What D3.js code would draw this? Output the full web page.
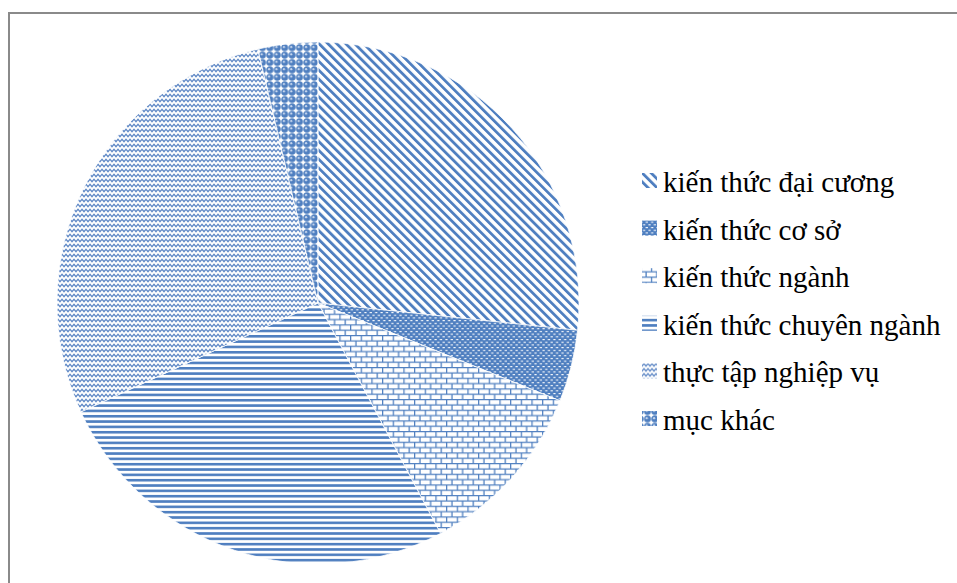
<!DOCTYPE html>
<html>
<head>
<meta charset="utf-8">
<script src="https://cdn.jsdelivr.net/npm/d3@7"></script>
<style>
  html, body { margin: 0; padding: 0; background: #fff; }
  svg { display: block; }
</style>
</head>
<body>
<div id="chart"></div>
<script>
// credit split of the programme
const categories = [
    'kiến thức đại cương',
    'kiến thức cơ sở',
    'kiến thức ngành',
    'kiến thức chuyên ngành',
    'thực tập nghiệp vụ',
    'mục khác'
];
const values = [36, 6, 15, 35, 38, 5];
const patternIds = ['p-diag', 'p-grid', 'p-brick', 'p-hline', 'p-wave', 'p-sphere'];

const W = 957, H = 583;
const blue = '#4f7fc0';
const cx = 318, cy = 303, radius = 261;

const svg = d3.select('#chart').append('svg')
    .attr('width', W)
    .attr('height', H);

const defs = svg.append('defs');

// wide downward diagonal
const diag = defs.append('pattern')
    .attr('id', 'p-diag')
    .attr('patternUnits', 'userSpaceOnUse')
    .attr('width', 6.3).attr('height', 6.3)
    .attr('patternTransform', 'rotate(-45)');
diag.append('rect').attr('width', 6.3).attr('height', 6.3).attr('fill', '#fff');
diag.append('rect').attr('x', 0).attr('width', 2.8).attr('height', 6.3).attr('fill', blue);

// small grid / dense dots
const grid = defs.append('pattern')
    .attr('id', 'p-grid')
    .attr('patternUnits', 'userSpaceOnUse')
    .attr('width', 5.4).attr('height', 5.4);
grid.append('rect').attr('width', 5.4).attr('height', 5.4).attr('fill', blue);
grid.append('rect').attr('x', 0.4).attr('y', 0.9).attr('width', 2.2).attr('height', 1.1).attr('fill', '#fff');
grid.append('rect').attr('x', 3.1).attr('y', 3.6).attr('width', 2.2).attr('height', 1.1).attr('fill', '#fff');

// horizontal brick
const brick = defs.append('pattern')
    .attr('id', 'p-brick')
    .attr('patternUnits', 'userSpaceOnUse')
    .attr('width', 10.67).attr('height', 10.67);
brick.append('rect').attr('width', 10.67).attr('height', 10.67).attr('fill', '#fff');
brick.append('path')
    .attr('d', 'M0,0.6H10.67 M0,5.93H10.67 M0.6,0V5.33 M5.93,5.33V10.67')
    .attr('stroke', blue).attr('stroke-width', 1.3).attr('fill', 'none');

// dark horizontal
const hline = defs.append('pattern')
    .attr('id', 'p-hline')
    .attr('patternUnits', 'userSpaceOnUse')
    .attr('width', 8).attr('height', 5.33);
hline.append('rect').attr('width', 8).attr('height', 5.33).attr('fill', '#fff');
hline.append('rect').attr('y', 0).attr('width', 8).attr('height', 2.6).attr('fill', blue);

// wave
const wave = defs.append('pattern')
    .attr('id', 'p-wave')
    .attr('patternUnits', 'userSpaceOnUse')
    .attr('width', 8).attr('height', 5);
wave.append('rect').attr('width', 8).attr('height', 5).attr('fill', '#fff');
wave.append('path')
    .attr('d', 'M-2,3.7 L0,1.3 L2,3.7 L4,1.3 L6,3.7 L8,1.3 L10,3.7')
    .attr('stroke', '#6089c6').attr('stroke-width', 1.2).attr('fill', 'none');

// spheres
const sphere = defs.append('pattern')
    .attr('id', 'p-sphere')
    .attr('patternUnits', 'userSpaceOnUse')
    .attr('width', 7.4).attr('height', 7.4);
sphere.append('rect').attr('width', 7.4).attr('height', 7.4).attr('fill', '#fff');
sphere.append('circle').attr('cx', 3.7).attr('cy', 3.7).attr('r', 3.5).attr('fill', blue);
sphere.append('circle').attr('cx', 2.9).attr('cy', 2.9).attr('r', 1.1).attr('fill', '#c9d8ee');

// frame
svg.append('rect')
    .attr('x', 9).attr('y', 13)
    .attr('width', W + 20).attr('height', H + 20)
    .attr('fill', 'none')
    .attr('stroke', '#8a8a8a')
    .attr('stroke-width', 2);

// pie
const pie = d3.pie().sort(null).value(d => d.value);
const arc = d3.arc().innerRadius(0).outerRadius(radius);
const data = categories.map((c, i) => ({ name: c, value: values[i], pattern: patternIds[i] }));

svg.append('g')
    .attr('transform', `translate(${cx},${cy})`)
    .selectAll('path.slice')
    .data(pie(data))
    .enter()
    .append('path')
    .attr('class', 'slice')
    .attr('d', arc)
    .attr('fill', d => `url(#${d.data.pattern})`)
    .attr('stroke', '#fff')
    .attr('stroke-width', 0.75);

// legend
const legendY = d3.scalePoint()
    .domain(categories)
    .range([192, 430]);

const legend = svg.append('g').attr('class', 'legend');
const rows = legend.selectAll('g.row')
    .data(data)
    .enter()
    .append('g')
    .attr('class', 'row')
    .attr('transform', d => `translate(0,${legendY(d.name)})`);

rows.append('rect')
    .attr('x', 642).attr('y', -19)
    .attr('width', 15).attr('height', 15)
    .attr('fill', d => `url(#${d.pattern})`);

rows.append('text')
    .attr('x', 663).attr('y', 0)
    .attr('font-family', '"Liberation Serif", "Times New Roman", serif')
    .attr('font-size', 29)
    .attr('fill', '#000')
    .text(d => d.name);
</script>
</body>
</html>
